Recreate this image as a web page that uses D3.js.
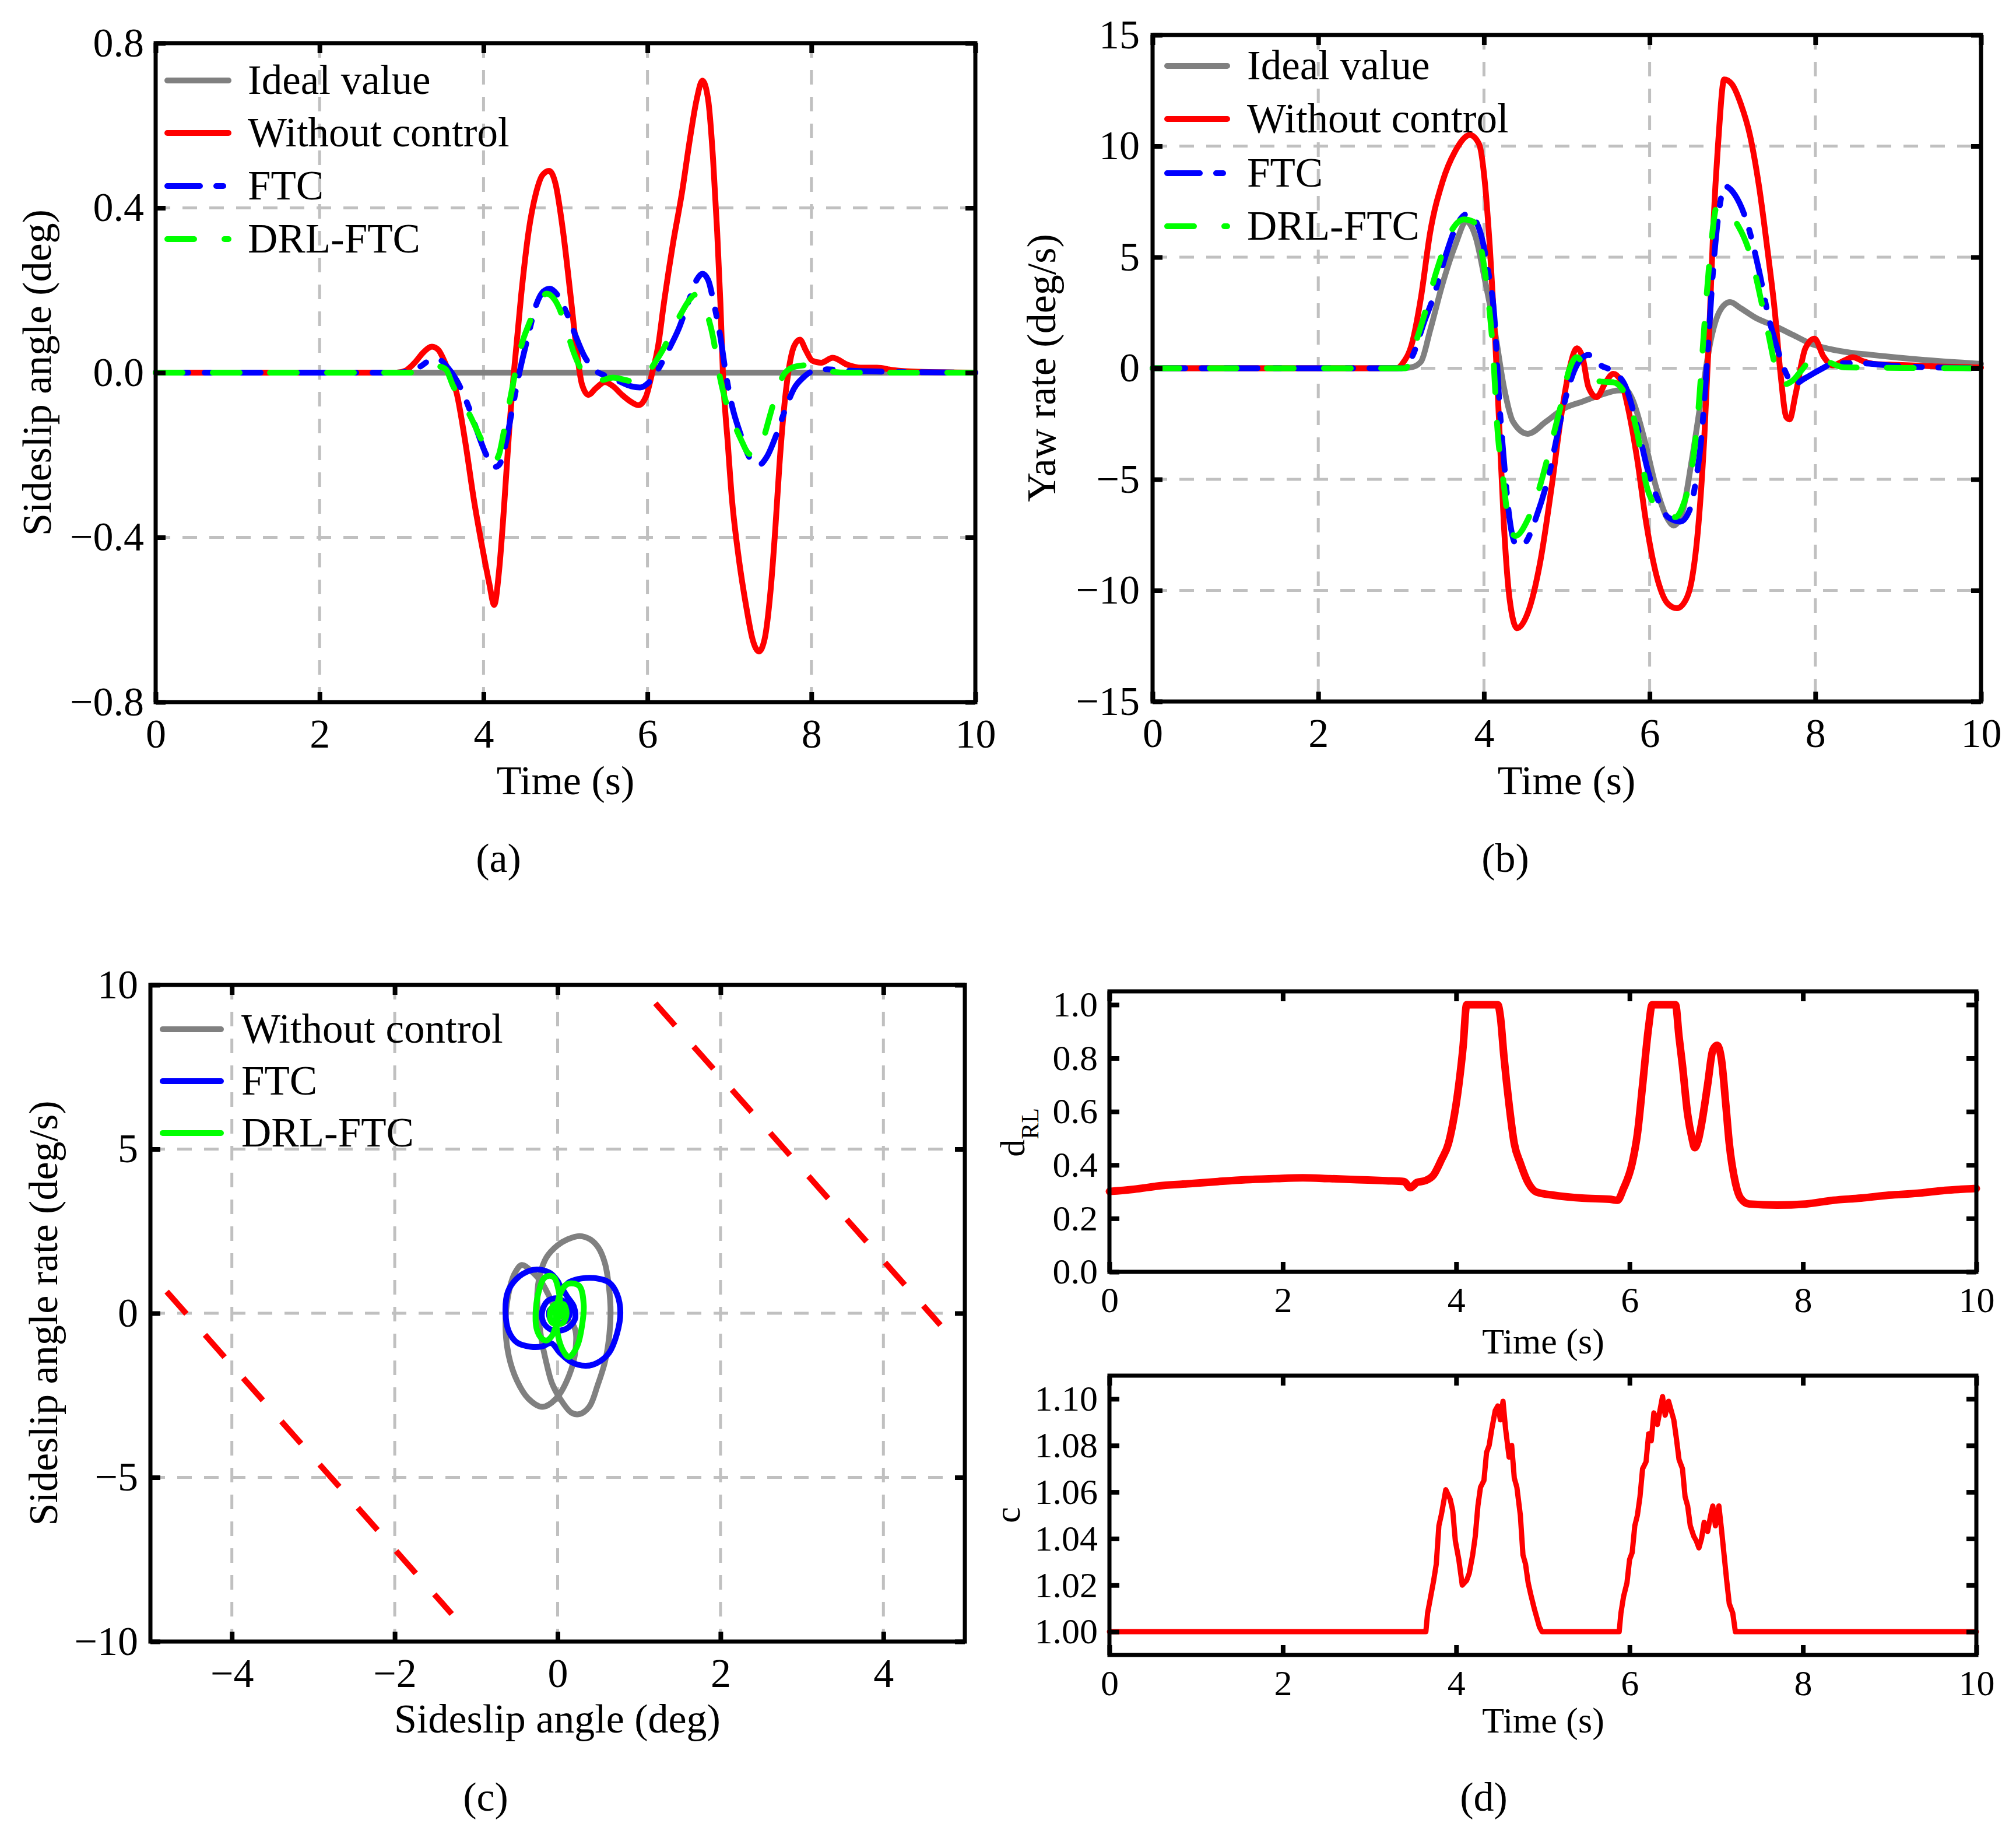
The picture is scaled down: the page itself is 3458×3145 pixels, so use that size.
<!DOCTYPE html>
<html><head><meta charset="utf-8">
<script src="https://cdn.jsdelivr.net/npm/d3@7"></script>
<style>body{margin:0;background:#fff}svg{display:block}svg text{font-family:"Liberation Serif","Times New Roman",Times,serif !important;}</style>
</head><body>
<svg id="chart" width="3458" height="3145"></svg>
<script>
// ---------------- DATA ----------------
// Panel (a): sideslip angle (deg) vs time (s)
const aIdeal = [[0,0],[10,0]];
const aWithout = [[0,0],[2.94,0],[3.05,0.005],[3.16,0.024],[3.27,0.05],[3.37,0.063],[3.45,0.055],[3.52,0.029],[3.58,0],[3.67,-0.048],[3.78,-0.172],[3.88,-0.306],[3.99,-0.43],[4.07,-0.512],[4.13,-0.564],[4.19,-0.48],[4.25,-0.327],[4.32,-0.12],[4.37,0],[4.46,0.19],[4.55,0.343],[4.64,0.436],[4.72,0.48],[4.80,0.49],[4.88,0.457],[4.97,0.343],[5.06,0.19],[5.13,0.065],[5.20,-0.028],[5.28,-0.054],[5.37,-0.038],[5.48,-0.023],[5.58,-0.033],[5.69,-0.054],[5.80,-0.071],[5.89,-0.079],[5.98,-0.059],[6.05,-0.007],[6.13,0.065],[6.20,0.168],[6.31,0.312],[6.42,0.436],[6.52,0.570],[6.60,0.663],[6.67,0.709],[6.74,0.663],[6.80,0.519],[6.85,0.343],[6.89,0.168],[6.92,0],[6.98,-0.172],[7.03,-0.306],[7.10,-0.43],[7.21,-0.574],[7.28,-0.646],[7.36,-0.677],[7.43,-0.646],[7.50,-0.533],[7.56,-0.378],[7.61,-0.224],[7.66,-0.10],[7.72,0.003],[7.79,0.065],[7.86,0.080],[7.93,0.055],[8.01,0.029],[8.12,0.024],[8.26,0.036],[8.44,0.019],[8.6,0.012],[8.8,0.012],[9.0,0.006],[9.3,0.002],[10,0]];
const aFTC = [[0,0],[2.94,0],[3.09,0.003],[3.23,0.015],[3.34,0.029],[3.45,0.032],[3.56,0.013],[3.67,-0.018],[3.81,-0.079],[3.92,-0.141],[4.03,-0.198],[4.14,-0.229],[4.19,-0.224],[4.26,-0.182],[4.34,-0.10],[4.43,-0.007],[4.54,0.086],[4.64,0.163],[4.73,0.197],[4.81,0.204],[4.90,0.189],[5.01,0.147],[5.11,0.096],[5.22,0.044],[5.33,0.011],[5.48,-0.007],[5.62,-0.018],[5.80,-0.033],[5.91,-0.036],[6.02,-0.023],[6.13,0.008],[6.24,0.049],[6.38,0.106],[6.51,0.178],[6.60,0.225],[6.67,0.24],[6.74,0.225],[6.81,0.168],[6.89,0.086],[6.96,-0.007],[7.03,-0.079],[7.14,-0.152],[7.25,-0.208],[7.36,-0.224],[7.46,-0.203],[7.57,-0.152],[7.68,-0.09],[7.79,-0.038],[7.90,-0.012],[8.01,0.003],[8.19,0.008],[8.44,0.005],[9.0,0.002],[10,0]];
const aDRL = [[0,0],[3.16,0],[3.31,0.005],[3.45,0.015],[3.54,0.008],[3.63,-0.033],[3.74,-0.069],[3.85,-0.11],[3.96,-0.157],[4.07,-0.198],[4.14,-0.213],[4.19,-0.198],[4.25,-0.141],[4.32,-0.069],[4.39,0.003],[4.46,0.065],[4.55,0.116],[4.64,0.158],[4.72,0.184],[4.77,0.192],[4.84,0.184],[4.92,0.158],[5.01,0.106],[5.10,0.049],[5.19,0.008],[5.29,-0.018],[5.44,-0.018],[5.58,-0.012],[5.73,-0.018],[5.87,-0.023],[5.98,-0.007],[6.09,0.024],[6.20,0.060],[6.31,0.106],[6.42,0.147],[6.51,0.176],[6.58,0.189],[6.65,0.178],[6.72,0.147],[6.80,0.086],[6.87,0.003],[6.94,-0.059],[7.03,-0.11],[7.14,-0.162],[7.25,-0.198],[7.32,-0.198],[7.41,-0.162],[7.50,-0.10],[7.59,-0.038],[7.68,0],[7.81,0.015],[7.95,0.018],[8.08,0.011],[8.22,0.003],[8.44,0],[10,0]];

// Panel (b): yaw rate (deg/s) vs time (s)
const bIdeal = [[0,0],[3.0,0],[3.13,0.05],[3.24,0.3],[3.35,1.7],[3.50,3.8],[3.65,5.5],[3.79,6.6],[3.90,5.9],[4.01,4.0],[4.13,1.7],[4.24,-0.83],[4.35,-2.4],[4.53,-2.95],[4.75,-2.4],[4.97,-1.8],[5.19,-1.5],[5.41,-1.2],[5.63,-1.0],[5.72,-1.0],[5.78,-1.3],[5.93,-3.1],[6.07,-5.25],[6.22,-6.8],[6.29,-7.08],[6.40,-6.4],[6.51,-4.1],[6.63,-1.2],[6.74,1.3],[6.85,2.6],[6.97,2.98],[7.10,2.7],[7.29,2.25],[7.51,1.9],[7.73,1.5],[7.95,1.1],[8.17,0.87],[8.43,0.7],[8.68,0.6],[9.0,0.48],[9.5,0.32],[10,0.2]];
const bWithout = [[0,0],[2.95,0],[3.02,0.23],[3.13,1.1],[3.24,3.2],[3.35,6.1],[3.50,8.4],[3.65,9.75],[3.83,10.5],[3.94,10.1],[4.01,8.4],[4.07,5.5],[4.13,1.7],[4.18,-2.2],[4.24,-7.0],[4.31,-10.4],[4.40,-11.7],[4.53,-11.0],[4.68,-8.7],[4.82,-5.25],[4.93,-2.2],[5.03,-0.06],[5.12,0.9],[5.19,0.5],[5.26,-0.83],[5.36,-1.3],[5.47,-0.63],[5.56,-0.25],[5.65,-0.54],[5.74,-1.8],[5.85,-4.1],[5.96,-7.0],[6.11,-9.7],[6.22,-10.6],[6.33,-10.8],[6.44,-10.4],[6.51,-9.5],[6.59,-7.0],[6.66,-3.1],[6.72,1.7],[6.77,6.5],[6.83,10.3],[6.90,13.0],[6.99,12.8],[7.10,11.9],[7.21,10.5],[7.32,8.2],[7.43,5.1],[7.51,2.6],[7.58,-0.25],[7.65,-2.2],[7.69,-2.3],[7.76,-1.2],[7.88,0.9],[7.99,1.33],[8.10,0.52],[8.21,0.13],[8.35,0.35],[8.45,0.5],[8.57,0.33],[8.7,0.2],[9.0,0.15],[9.5,0.08],[10,0.03]];
const bFTC = [[0,0],[3.0,0],[3.13,0.5],[3.28,2.1],[3.39,3.2],[3.54,5.1],[3.68,6.5],[3.81,6.96],[3.94,6.3],[4.05,4.4],[4.13,2.1],[4.18,-1.2],[4.24,-4.1],[4.31,-6.8],[4.38,-7.9],[4.44,-8.0],[4.49,-7.9],[4.64,-6.6],[4.79,-4.7],[4.90,-2.75],[5.01,-1.0],[5.12,0.13],[5.26,0.6],[5.41,0.13],[5.56,-0.15],[5.71,-0.83],[5.85,-2.6],[6.0,-4.9],[6.11,-6.0],[6.22,-6.7],[6.37,-6.9],[6.48,-6.4],[6.55,-5.25],[6.63,-2.9],[6.70,0.7],[6.77,4.6],[6.85,7.4],[6.90,8.2],[7.03,7.8],[7.18,6.5],[7.32,4.4],[7.43,2.4],[7.54,0.9],[7.65,-0.25],[7.73,-0.73],[7.88,-0.44],[8.06,-0.06],[8.24,0.23],[8.50,0.23],[9.0,0.1],[10,0]];
const bDRL = [[0,0],[3.05,0],[3.17,1.1],[3.28,2.4],[3.43,4.4],[3.61,6.2],[3.76,6.7],[3.87,6.6],[3.98,5.1],[4.05,3.2],[4.11,0.7],[4.16,-2.6],[4.24,-5.25],[4.31,-7.2],[4.38,-7.55],[4.53,-6.8],[4.68,-5.25],[4.79,-3.7],[4.92,-1.8],[5.03,-0.06],[5.12,0.5],[5.26,-0.25],[5.41,-0.6],[5.56,-0.63],[5.71,-1.2],[5.85,-2.9],[5.96,-5.25],[6.07,-6.2],[6.18,-6.6],[6.31,-6.7],[6.40,-6.2],[6.51,-4.5],[6.59,-1.8],[6.66,1.9],[6.74,5.5],[6.81,7.25],[6.92,7.05],[7.07,6.4],[7.18,5.5],[7.29,4.0],[7.36,2.8],[7.43,1.6],[7.54,-0.25],[7.62,-0.73],[7.73,-0.54],[7.84,-0.06],[7.99,0.52],[8.13,0.33],[8.35,0.04],[10,0]];

// Panel (c): phase plane, sideslip angle (deg) vs sideslip angle rate (deg/s)
const cWithoutLoopA = [[0,0],[0.2,-0.4],[0.22,-1.1],[0.14,-1.9],[-0.02,-2.6],[-0.19,-2.85],[-0.36,-2.6],[-0.5,-2.05],[-0.6,-1.3],[-0.64,-0.4],[-0.61,0.5],[-0.53,1.2],[-0.44,1.47],[-0.33,1.3],[-0.2,0.95],[-0.1,0.5]];
const cWithoutLoopB = [[0.27,2.35],[0.40,2.25],[0.50,2.0],[0.58,1.53],[0.63,0.8],[0.65,0.02],[0.63,-0.77],[0.58,-1.49],[0.49,-2.2],[0.39,-2.84],[0.27,-3.07],[0.17,-3.03],[0.03,-2.6],[-0.07,-2.13],[-0.14,-1.49],[-0.20,-0.77],[-0.24,0.0],[-0.25,0.58],[-0.22,1.14],[-0.14,1.69],[0.0,2.07],[0.12,2.25]];
const cFTCOuter = [[-0.64,0.02],[-0.61,0.66],[-0.50,1.06],[-0.35,1.29],[-0.23,1.33],[-0.09,1.22],[0.0,0.98],[0.05,0.78],[0.15,0.96],[0.29,1.06],[0.46,1.07],[0.63,0.94],[0.73,0.58],[0.77,0.02],[0.73,-0.61],[0.63,-1.21],[0.48,-1.52],[0.34,-1.60],[0.17,-1.49],[0.03,-1.21],[-0.08,-0.91],[-0.19,-1.01],[-0.33,-1.02],[-0.50,-0.89],[-0.60,-0.55]];
const cFTCInner = [[0.05,0.78],[0.12,0.5],[0.2,0.2],[0.21,-0.2],[0.1,-0.48],[-0.06,-0.52],[-0.17,-0.3],[-0.19,0.05],[-0.12,0.38],[0.0,0.45],[0.12,0.25],[0.14,-0.1],[0.05,-0.3],[-0.08,-0.22],[-0.1,0.08],[0.0,0.2],[0.05,0.0]];
const cDRLLoopL = [[-0.10,1.14],[-0.17,1.06],[-0.24,0.58],[-0.27,0.02],[-0.26,-0.45],[-0.21,-0.73],[-0.14,-0.83],[-0.07,-0.69],[-0.01,-0.29],[0.03,0.26],[0.0,0.82],[-0.04,1.08]];
const cDRLLoopR = [[0.17,0.91],[0.27,0.82],[0.32,0.26],[0.30,-0.37],[0.24,-1.0],[0.14,-1.33],[0.065,-1.13],[-0.007,-0.53],[-0.02,0.02],[0.03,0.58],[0.10,0.86]];
const cDRLInner = [[0,0],[0.07,0.28],[0.11,0.0],[0.06,-0.3],[-0.07,-0.28],[-0.09,0.08],[-0.02,0.28],[0.05,0.08],[0.02,-0.12],[-0.03,0.0]];
const cBoundLower = [[-4.8,0.66],[-1.3,-9.16]];
const cBoundUpper = [[1.2,9.44],[4.7,-0.36]];

// Panel (d) top: d_RL vs time
const dRL = [[0,0.301],[0.28,0.309],[0.61,0.323],[0.93,0.330],[1.25,0.338],[1.57,0.345],[1.90,0.349],[2.23,0.352],[2.54,0.349],[2.86,0.345],[3.19,0.341],[3.40,0.338],[3.47,0.315],[3.55,0.335],[3.64,0.341],[3.74,0.363],[3.83,0.42],[3.91,0.48],[3.96,0.553],[4.03,0.70],[4.08,0.845],[4.12,1.0],[4.48,1.0],[4.51,0.954],[4.55,0.808],[4.61,0.626],[4.67,0.48],[4.74,0.407],[4.83,0.334],[4.93,0.298],[5.12,0.287],[5.45,0.276],[5.77,0.272],[5.86,0.268],[5.93,0.312],[6.03,0.407],[6.09,0.516],[6.15,0.699],[6.22,0.918],[6.26,1.0],[6.53,1.0],[6.57,0.881],[6.61,0.772],[6.67,0.589],[6.72,0.50],[6.75,0.465],[6.79,0.49],[6.83,0.553],[6.90,0.70],[6.96,0.83],[7.01,0.848],[7.06,0.794],[7.11,0.626],[7.15,0.48],[7.22,0.334],[7.28,0.276],[7.38,0.254],[7.70,0.25],[8.03,0.254],[8.35,0.268],[8.67,0.276],[8.99,0.287],[9.32,0.294],[9.64,0.305],[10,0.312]];
// Panel (d) bottom: c vs time
const dC = [[0,1.0],[3.65,1.0],[3.67,1.008],[3.70,1.014],[3.74,1.022],[3.77,1.029],[3.80,1.0455],[3.83,1.0505],[3.88,1.061],[3.93,1.057],[3.96,1.052],[3.99,1.039],[4.03,1.031],[4.07,1.020],[4.12,1.022],[4.15,1.025],[4.19,1.033],[4.22,1.041],[4.25,1.054],[4.28,1.062],[4.32,1.065],[4.35,1.077],[4.38,1.080],[4.41,1.087],[4.45,1.095],[4.48,1.097],[4.51,1.091],[4.54,1.099],[4.57,1.087],[4.61,1.075],[4.64,1.080],[4.67,1.066],[4.70,1.062],[4.74,1.050],[4.77,1.033],[4.80,1.029],[4.83,1.021],[4.86,1.016],[4.90,1.010],[4.93,1.006],[4.96,1.002],[4.99,1.0],[5.88,1.0],[5.90,1.008],[5.93,1.015],[5.97,1.021],[6.00,1.031],[6.03,1.034],[6.06,1.0455],[6.09,1.050],[6.12,1.058],[6.15,1.070],[6.19,1.073],[6.22,1.085],[6.25,1.082],[6.28,1.094],[6.32,1.089],[6.35,1.095],[6.38,1.101],[6.41,1.093],[6.45,1.099],[6.48,1.095],[6.51,1.091],[6.54,1.083],[6.57,1.074],[6.61,1.070],[6.64,1.058],[6.67,1.054],[6.70,1.0455],[6.74,1.041],[6.77,1.039],[6.80,1.036],[6.83,1.040],[6.86,1.047],[6.90,1.043],[6.93,1.049],[6.96,1.054],[6.99,1.0455],[7.03,1.054],[7.06,1.044],[7.09,1.033],[7.12,1.022],[7.15,1.012],[7.19,1.008],[7.22,1.0],[10,1.0]];

// Ticks / labels
const timeTicks = [0,2,4,6,8,10];
const timeGrid = [2,4,6,8];
const aYTicks = [-0.8,-0.4,0,0.4,0.8];
const aYGrid = [-0.4,0,0.4];
const bYTicks = [-15,-10,-5,0,5,10,15];
const bYGrid = [-10,-5,0,5,10];
const cXTicks = [-4,-2,0,2,4];
const cYTicks = [-10,-5,0,5,10];
const cYGrid = [-5,0,5];
const dTopTicks = [0,0.2,0.4,0.6,0.8,1.0];
const dBotTicks = [1.00,1.02,1.04,1.06,1.08,1.10];
const legendAB = ["Ideal value","Without control","FTC","DRL-FTC"];
const legendC = ["Without control","FTC","DRL-FTC"];

// ---------------- DRAWING ----------------
const FONT = '"Liberation Serif","Times New Roman",Times,serif';
const svg = d3.select('#chart');
svg.append('rect').attr('width',3458).attr('height',3145).attr('fill','#fff');

const C = {gray:'#808080', red:'#ff0000', blue:'#0000ff', green:'#00ff00'};
const LW = 10;
const styleIdeal = {stroke:C.gray, dash:null};
const styleWithout = {stroke:C.red, dash:null};
const styleFTC = {stroke:C.blue, dash:'56,28,12,28'};
const styleDRL = {stroke:C.green, dash:'46,52'};

function panel(o){
  const x = d3.scaleLinear().domain(o.xd).range([o.l, o.r]);
  const y = d3.scaleLinear().domain(o.yd).range([o.b, o.t]);
  const g = svg.append('g');
  const grid = g.append('g');
  if (o.gx) grid.selectAll('line.gx').data(o.gx).join('line').attr('class','gx')
    .attr('x1',d=>x(d)).attr('x2',d=>x(d)).attr('y1',o.t).attr('y2',o.b)
    .attr('stroke','#c0c0c0').attr('stroke-width',5).attr('stroke-dasharray','25,21');
  if (o.gy) grid.selectAll('line.gy').data(o.gy).join('line').attr('class','gy')
    .attr('y1',d=>y(d)).attr('y2',d=>y(d)).attr('x1',o.l).attr('x2',o.r)
    .attr('stroke','#c0c0c0').attr('stroke-width',5).attr('stroke-dasharray','25,21');
  const data = g.append('g');
  const ax = g.append('g');
  return {x,y,g,data,ax,o};
}
function series(p, pts, st, curve, lw){
  const line = d3.line().x(d=>p.x(d[0])).y(d=>p.y(d[1])).curve(curve||d3.curveMonotoneX);
  const path = p.data.append('path').datum(pts).attr('d',line).attr('fill','none')
    .attr('stroke',st.stroke).attr('stroke-width',lw||LW)
    .attr('stroke-linejoin','round').attr('stroke-linecap', st.cap||'round');
  if (st.dash) path.attr('stroke-dasharray',st.dash);
  return path;
}
function finish(p){
  const {x,y,o,ax} = p;
  ax.append('rect').attr('x',o.l).attr('y',o.t).attr('width',o.r-o.l).attr('height',o.b-o.t)
    .attr('fill','none').attr('stroke','#000').attr('stroke-width',7);
  const sty = sel => {
    sel.select('.domain').remove();
    sel.attr('font-family',FONT).attr('font-size',o.fs);
    sel.selectAll('.tick line').attr('stroke','#000').attr('stroke-width',8);
    sel.selectAll('.tick text').attr('fill','#000').attr('font-family',FONT);
  };
  ax.append('g').attr('transform',`translate(0,${o.b})`)
    .call(d3.axisBottom(x).tickValues(o.xt).tickFormat(o.xf).tickSizeInner(-17).tickSizeOuter(0).tickPadding(o.xpad)).call(sty);
  ax.append('g').attr('transform',`translate(0,${o.t})`)
    .call(d3.axisTop(x).tickValues(o.xt).tickFormat('').tickSizeInner(-17).tickSizeOuter(0)).call(sty);
  ax.append('g').attr('transform',`translate(${o.l},0)`)
    .call(d3.axisLeft(y).tickValues(o.yt).tickFormat(o.yf).tickSizeInner(-17).tickSizeOuter(0).tickPadding(o.ypad)).call(sty);
  ax.append('g').attr('transform',`translate(${o.r},0)`)
    .call(d3.axisRight(y).tickValues(o.yt).tickFormat('').tickSizeInner(-17).tickSizeOuter(0)).call(sty);
}
function text(x,y,str,fs,opts){
  opts = opts||{};
  const t = svg.append('text').attr('font-family',FONT).attr('font-size',fs).attr('fill','#000')
    .attr('text-anchor',opts.anchor||'middle');
  if (opts.rot) t.attr('transform',`translate(${x},${y}) rotate(-90)`);
  else t.attr('x',x).attr('y',y);
  t.text(str);
  return t;
}
function legend(labels, styles, x1, x2, tx, ys, fs){
  const g = svg.append('g');
  labels.forEach((lab,i)=>{
    const st = styles[i];
    const l = g.append('line').attr('x1',x1).attr('x2',x2).attr('y1',ys[i]).attr('y2',ys[i])
      .attr('stroke',st.stroke).attr('stroke-width',LW).attr('stroke-linecap','round');
    if (st.dash) l.attr('stroke-dasharray',st.dash);
    g.append('text').attr('x',tx).attr('y',ys[i]).attr('dy','0.33em')
      .attr('font-family',FONT).attr('font-size',fs).attr('fill','#000').text(lab);
  });
}
const f1 = d3.format('.1f'), f0 = d3.format('d'), f2 = d3.format('.2f');

// ----- Panel (a)
const pa = panel({xd:[0,10], yd:[-0.8,0.8], l:267, r:1673, t:74, b:1204,
  gx:timeGrid, gy:aYGrid, xt:timeTicks, yt:aYTicks, xf:f0, yf:f1, fs:70, xpad:28, ypad:20});
series(pa, aIdeal, styleIdeal);
series(pa, aWithout, styleWithout);
series(pa, aFTC, styleFTC);
series(pa, aDRL, styleDRL);
finish(pa);
legend(legendAB, [styleIdeal,styleWithout,styleFTC,styleDRL], 287, 392, 425, [138,228,319,410], 71);
text(87, 639, 'Sideslip angle (deg)', 70, {rot:true});
text(970, 1362, 'Time (s)', 70);
text(855, 1495, '(a)', 70);

// ----- Panel (b)
const pb = panel({xd:[0,10], yd:[-15,15], l:1977, r:3398, t:60, b:1203,
  gx:timeGrid, gy:bYGrid, xt:timeTicks, yt:bYTicks, xf:f0, yf:f0, fs:70, xpad:28, ypad:22});
series(pb, bIdeal, styleIdeal);
series(pb, bWithout, styleWithout);
series(pb, bFTC, styleFTC);
series(pb, bDRL, styleDRL);
finish(pb);
legend(legendAB, [styleIdeal,styleWithout,styleFTC,styleDRL], 2002, 2105, 2139, [113,204,297,388], 71);
text(1810, 631, 'Yaw rate (deg/s)', 70, {rot:true});
text(2687, 1362, 'Time (s)', 70);
text(2582, 1495, '(b)', 70);

// ----- Panel (c)
const pc = panel({xd:[-5,5], yd:[-10,10], l:258, r:1655, t:1689, b:2815,
  gx:cXTicks, gy:cYGrid, xt:cXTicks, yt:cYTicks, xf:f0, yf:f0, fs:70, xpad:28, ypad:21});
const closed = d3.curveCatmullRomClosed.alpha(0.5);
const open = d3.curveCatmullRom.alpha(0.5);
const sGray = {stroke:C.gray}, sBlue = {stroke:C.blue}, sGreen = {stroke:C.green};
series(pc, cWithoutLoopA, sGray, closed);
series(pc, cWithoutLoopB, sGray, closed);
series(pc, cFTCOuter, sBlue, closed);
series(pc, cFTCInner, sBlue, open);
series(pc, cDRLLoopL, sGreen, closed);
series(pc, cDRLLoopR, sGreen, closed);
series(pc, cDRLInner, sGreen, open);
const sBound = {stroke:C.red, dash:'51,48', cap:'butt'};
series(pc, cBoundLower, sBound, d3.curveLinear);
series(pc, cBoundUpper, sBound, d3.curveLinear);
finish(pc);
legend(legendC, [sGray,sBlue,sGreen], 279, 379, 414, [1765,1854,1943], 71);
text(98, 2252, 'Sideslip angle rate (deg/s)', 70, {rot:true});
text(956, 2971, 'Sideslip angle (deg)', 70);
text(833, 3105, '(c)', 70);

// ----- Panel (d) top
const pd1 = panel({xd:[0,10], yd:[0,1.05], l:1903, r:3390, t:1700, b:2181,
  xt:timeTicks, yt:dTopTicks, xf:f0, yf:f1, fs:62, xpad:25, ypad:20});
series(pd1, dRL, {stroke:C.red}, d3.curveMonotoneX, 13);
finish(pd1);
const dl = svg.append('text').attr('font-family',FONT).attr('font-size',60).attr('fill','#000')
  .attr('text-anchor','middle').attr('transform','translate(1757,1942) rotate(-90)');
dl.append('tspan').text('d');
dl.append('tspan').attr('font-size',42).attr('dy',24).text('RL');
text(2647, 2321, 'Time (s)', 62);

// ----- Panel (d) bottom
const pd2 = panel({xd:[0,10], yd:[0.99,1.11], l:1903, r:3390, t:2359, b:2838,
  xt:timeTicks, yt:dBotTicks, xf:f0, yf:f2, fs:62, xpad:25, ypad:20});
series(pd2, dC, {stroke:C.red}, d3.curveLinear, 9);
finish(pd2);
text(1749, 2598, 'c', 62, {rot:true});
text(2647, 2971, 'Time (s)', 62);
text(2545, 3105, '(d)', 70);
</script>
</body></html>
